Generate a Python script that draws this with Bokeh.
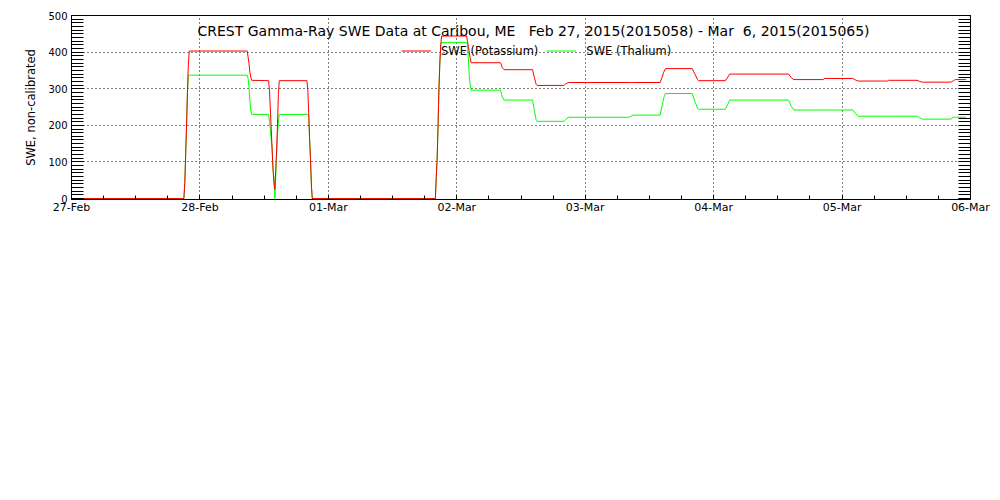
import pandas as pd
from bokeh.plotting import figure
from bokeh.models import (Range1d, FixedTicker, DatetimeTickFormatter, LinearAxis,
                          Label, Legend, LegendItem, ColumnDataSource)
from bokeh.embed import file_html
from bokeh.resources import INLINE

# ---- data ----
times = [
    "2015-02-27 00:00", "2015-02-27 21:00", "2015-02-27 21:10", "2015-02-27 21:20",
    "2015-02-27 21:30", "2015-02-27 21:40", "2015-02-27 21:50", "2015-02-27 22:00",
    "2015-02-28 08:50", "2015-02-28 09:00", "2015-02-28 09:10", "2015-02-28 09:20",
    "2015-02-28 09:30", "2015-02-28 09:40", "2015-02-28 12:50", "2015-02-28 13:00",
    "2015-02-28 13:10", "2015-02-28 13:20", "2015-02-28 13:30", "2015-02-28 13:40",
    "2015-02-28 13:50", "2015-02-28 14:00", "2015-02-28 14:10", "2015-02-28 14:20",
    "2015-02-28 14:30", "2015-02-28 14:40", "2015-02-28 14:50", "2015-02-28 20:00",
    "2015-02-28 20:10", "2015-02-28 20:20", "2015-02-28 20:30", "2015-02-28 20:40",
    "2015-02-28 20:50", "2015-02-28 21:00", "2015-03-01 20:00", "2015-03-01 20:10",
    "2015-03-01 20:20", "2015-03-01 20:30", "2015-03-01 20:40", "2015-03-01 20:50",
    "2015-03-01 21:00", "2015-03-01 21:10", "2015-03-02 01:50", "2015-03-02 02:00",
    "2015-03-02 02:10", "2015-03-02 02:20", "2015-03-02 02:30", "2015-03-02 02:40",
    "2015-03-02 08:10", "2015-03-02 08:30", "2015-03-02 08:50", "2015-03-02 14:10",
    "2015-03-02 14:30", "2015-03-02 14:50", "2015-03-02 15:00", "2015-03-02 20:00",
    "2015-03-02 20:20", "2015-03-02 20:50", "2015-03-03 08:10", "2015-03-03 08:40",
    "2015-03-03 09:00", "2015-03-03 14:00", "2015-03-03 14:20", "2015-03-03 14:40",
    "2015-03-03 15:00", "2015-03-03 20:00", "2015-03-03 20:30", "2015-03-03 21:00",
    "2015-03-03 21:10", "2015-03-04 02:10", "2015-03-04 02:40", "2015-03-04 03:00",
    "2015-03-04 14:00", "2015-03-04 14:30", "2015-03-04 15:00", "2015-03-04 20:30",
    "2015-03-04 20:40", "2015-03-05 02:00", "2015-03-05 02:30", "2015-03-05 03:00",
    "2015-03-05 08:30", "2015-03-05 08:40", "2015-03-05 14:00", "2015-03-05 14:30",
    "2015-03-05 15:00", "2015-03-05 20:20", "2015-03-05 20:50", "2015-03-05 21:10",
    "2015-03-05 23:10",
]
potassium = [
    0, 0, 41, 120, 201, 290, 364, 403,
    403, 387, 369, 346, 332, 323, 322, 296,
    242, 188, 133, 79, 43, 25, 79, 133,
    206, 287, 322, 322, 296, 228, 160, 106,
    34, 0, 0, 60, 110, 200, 300, 370,
    420, 444, 444, 430, 415, 400, 385, 371,
    371, 358, 352, 352, 330, 312, 309, 309,
    313, 317, 317, 317, 317, 317, 330, 345,
    355, 355, 340, 325, 322, 322, 332, 340,
    340, 330, 325, 325, 328, 328, 324, 321,
    321, 323, 323, 320, 318, 318, 322, 325,
    325,
]
thalium = [
    0, 0, 41, 120, 201, 290, 337, 337,
    337, 328, 305, 269, 242, 230, 230, 210,
    188, 160, 133, 79, 55, 0, 61, 124,
    178, 211, 230, 230, 228, 228, 160, 106,
    34, 0, 0, 60, 110, 200, 300, 370,
    420, 426, 426, 420, 382, 337, 310, 296,
    296, 278, 269, 269, 240, 214, 211, 211,
    216, 222, 222, 226, 228, 228, 250, 275,
    287, 287, 265, 247, 244, 244, 258, 269,
    269, 252, 242, 242, 242, 242, 232, 225,
    225, 225, 225, 220, 217, 217, 222, 222,
    222,
]
day_ticks = ["2015-02-27", "2015-02-28", "2015-03-01", "2015-03-02",
             "2015-03-03", "2015-03-04", "2015-03-05", "2015-03-06"]
y_ticks = [0, 100, 200, 300, 400, 500]
series_labels = ["SWE (Potassium)", "SWE (Thalium)"]
title_text = ("CREST Gamma-Ray SWE Data at Caribou, ME\u00a0\u00a0\u00a0"
              "Feb 27, 2015(2015058) - Mar\u00a0\u00a06, 2015(2015065)")
y_label = "SWE, non-calibrated"

FONT = "DejaVu Sans"

def ms(t):
    return pd.Timestamp(t).value / 1e6

major_x = [ms(d) for d in day_ticks]
minor_x = []
for a, b in zip(major_x[:-1], major_x[1:]):
    step = (b - a) / 4
    minor_x += [a + i * step for i in range(4)]
minor_x.append(major_x[-1])
minor_y = list(range(y_ticks[0], y_ticks[-1] + 1, 10))

source = ColumnDataSource(dict(t=pd.to_datetime(times), k=potassium, tl=thalium))

# y range starts a hair below 0 so the zero-level trace sits just above the axis line
p = figure(width=992, height=229, x_axis_type="datetime",
           x_range=Range1d(major_x[0], major_x[-1]),
           y_range=Range1d(y_ticks[0] - 2.5, y_ticks[-1]),
           output_backend="svg", toolbar_location=None,
           min_border_left=71, min_border_right=22, min_border_top=15,
           min_border_bottom=30)
p.background_fill_color = "white"
p.border_fill_color = "white"
p.outline_line_color = "black"
p.outline_line_width = 1

gl = p.line("t", "tl", source=source, line_color="#00ff00", line_width=1)
rl = p.line("t", "k", source=source, line_color="#ff0000", line_width=1)

# x axis
xt = FixedTicker(ticks=major_x, minor_ticks=minor_x)
p.xaxis.ticker = xt
fmt = "%d-%b"
p.xaxis.formatter = DatetimeTickFormatter(microseconds=fmt, milliseconds=fmt, seconds=fmt,
                                          minsec=fmt, minutes=fmt, hourmin=fmt, hours=fmt,
                                          days=fmt, months=fmt, years=fmt)
p.xaxis.major_tick_in = 4
p.xaxis.major_tick_out = 0
p.xaxis.minor_tick_in = 4
p.xaxis.minor_tick_out = 0
p.xaxis.major_label_standoff = 1
p.xaxis.major_label_text_font = FONT
p.xaxis.major_label_text_font_size = "11px"
p.xaxis.major_label_text_color = "black"

# y axis
yt = FixedTicker(ticks=y_ticks, minor_ticks=minor_y)
p.yaxis.ticker = yt
p.yaxis.major_tick_in = 12
p.yaxis.major_tick_out = 0
p.yaxis.minor_tick_in = 12
p.yaxis.minor_tick_out = 0
p.yaxis.major_label_standoff = 4
p.yaxis.major_label_text_font = FONT
p.yaxis.major_label_text_font_size = "10px"
p.yaxis.major_label_text_color = "black"
p.yaxis.axis_label = y_label
p.yaxis.axis_label_text_font = FONT
p.yaxis.axis_label_text_font_size = "11.5px"
p.yaxis.axis_label_text_font_style = "normal"
p.yaxis.axis_label_text_color = "black"
p.yaxis.axis_label_standoff = 7

for ax in p.axis:
    ax.axis_line_color = "black"
    ax.major_tick_line_color = "black"
    ax.minor_tick_line_color = "black"

ry = LinearAxis(ticker=yt, major_tick_in=12, major_tick_out=0, minor_tick_in=12,
                minor_tick_out=0, major_label_overrides={v: "" for v in y_ticks},
                major_label_standoff=0, axis_line_color="black",
                major_tick_line_color="black", minor_tick_line_color="black")
p.add_layout(ry, "right")

# grids (inner lines only; the frame covers the ends)
p.xgrid.ticker = FixedTicker(ticks=major_x[1:-1])
p.ygrid.ticker = FixedTicker(ticks=y_ticks[1:-1])
for g in p.grid:
    g.grid_line_color = "black"
    g.grid_line_dash = "1 3"
    g.grid_line_width = 1
    g.grid_line_alpha = 1

# legend
legend = Legend(items=[LegendItem(label=series_labels[0], renderers=[rl]),
                       LegendItem(label=series_labels[1], renderers=[gl])],
                orientation="horizontal", location=(330, 141),
                glyph_width=30, glyph_height=15, label_height=15,
                label_standoff=10, spacing=8, padding=0, margin=0,
                border_line_color=None, background_fill_alpha=0,
                label_text_font=FONT, label_text_font_size="11.5px",
                label_text_color="black")
p.add_layout(legend)

# title inside the frame
p.add_layout(Label(x=126, y=169, x_units="screen", y_units="screen", text=title_text,
                   text_font=FONT, text_font_size="14px", text_baseline="middle",
                   text_align="left", text_color="black"))

open("out.html", "w").write(file_html(p, INLINE))
